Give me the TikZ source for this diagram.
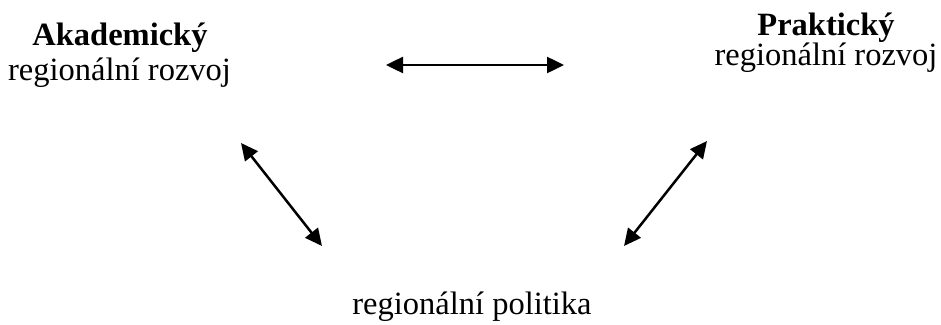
\documentclass[tikz,border=0pt]{standalone}
\usepackage{fontspec}
\setmainfont{Liberation Serif}
\usetikzlibrary{arrows.meta}
\begin{document}
\begin{tikzpicture}[x=1pt,y=-1pt,
  lbl/.style={align=center,inner sep=0pt,anchor=base,font=\fontsize{32.5}{35}\selectfont},
  dbl/.style={{Triangle[length=17pt,width=16pt]}-{Triangle[length=17pt,width=16pt]},line width=2.5pt}]
\useasboundingbox (0,0) rectangle (941,324);
\node[lbl] (akb) at (120,45) {\textbf{Akademický}};
\node[lbl] (akr) at (119.5,80) {regionální rozvoj};
\node[lbl] (prb) at (826,35) {\textbf{Praktický}};
\node[lbl] (prr) at (826,65) {regionální rozvoj};
\node[lbl] (pol) at (472,314) {regionální politika};
\coordinate (t1) at (386,65);
\coordinate (t2) at (564,65);
\coordinate (l1) at (241,143);
\coordinate (l2) at (322,246);
\coordinate (r1) at (707,141);
\coordinate (r2) at (624,246);
\draw[dbl] (t1) -- (t2);
\draw[dbl] (l1) -- (l2);
\draw[dbl] (r1) -- (r2);
\end{tikzpicture}
\end{document}
